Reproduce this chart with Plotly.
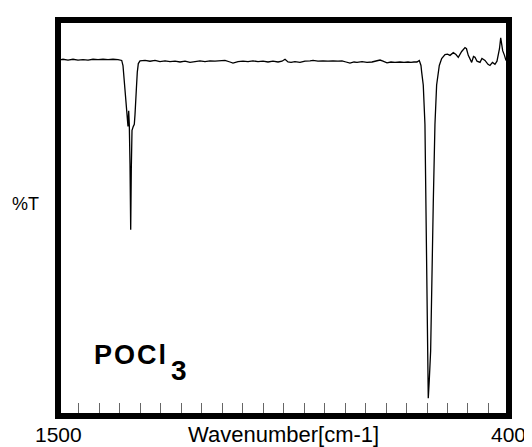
import plotly.graph_objects as go

# IR spectrum of POCl3
wavenumber = [
    1497.6, 1487.8, 1475.6, 1463.4, 1451.2, 1439.0, 1426.8, 1414.6, 1402.4, 1390.2,
    1378.0, 1365.9, 1353.7, 1344.6, 1341.5, 1339.0, 1336.6, 1333.4, 1331.0, 1329.3,
    1327.6, 1326.1, 1324.4, 1322.7, 1321.2, 1319.5, 1316.3, 1313.9, 1312.2, 1310.5,
    1309.0, 1306.6, 1304.1, 1300.0, 1287.8, 1275.6, 1263.4, 1251.2, 1239.0, 1226.8,
    1214.6, 1202.4, 1190.2, 1178.0, 1165.9, 1153.7, 1141.5, 1129.3, 1117.1, 1104.9,
    1092.7, 1080.5, 1073.2, 1061.0, 1048.8, 1036.6, 1024.4, 1012.2, 1000.0, 987.8,
    975.6, 963.4, 953.7, 946.3, 939.0, 931.7, 922.0, 909.8, 897.6, 885.4,
    878.0, 865.9, 853.7, 841.5, 829.3, 817.1, 807.3, 797.6, 787.8, 778.0,
    770.7, 758.5, 746.3, 734.2, 722.0, 714.6, 707.3, 697.6, 687.8, 678.1,
    665.9, 656.1, 646.4, 639.1, 631.8, 624.5, 618.8, 614.7, 613.0, 609.1,
    605.0, 602.5, 599.4, 596.9, 594.5, 591.1, 584.7, 580.6, 576.5, 570.0,
    564.2, 556.1, 550.0, 543.9, 535.9, 529.3, 523.7, 515.4, 507.3, 503.7,
    499.3, 495.1, 491.0, 486.6, 482.9, 478.0, 470.7, 465.9, 458.5, 451.2,
    446.4, 440.3, 434.2, 429.3, 426.1, 423.2, 420.2, 418.3, 415.4, 411.0,
    407.3,
]
transmittance = [
    90.5, 90.7, 90.5, 90.7, 90.5, 90.6, 90.5, 90.7, 90.6, 90.7,
    90.6, 90.7, 90.6, 90.4, 89.1, 86.1, 81.6, 77.5, 75.3, 73.5,
    77.5, 74.0, 63.9, 47.0, 62.6, 72.5, 73.5, 74.0, 76.5, 79.0,
    82.8, 87.4, 89.6, 90.3, 90.4, 90.2, 90.4, 90.1, 90.3, 90.1,
    90.2, 90.0, 90.2, 89.9, 90.1, 90.3, 90.1, 90.3, 90.2, 90.3,
    90.4, 90.0, 89.7, 90.1, 90.2, 90.1, 90.3, 90.1, 90.2, 90.0,
    90.2, 90.0, 90.2, 90.7, 90.0, 89.9, 90.1, 89.9, 90.2, 90.3,
    90.4, 90.2, 90.3, 90.2, 90.3, 90.2, 90.3, 90.0, 89.7, 90.0,
    89.9, 90.1, 89.9, 90.0, 90.2, 90.5, 90.2, 89.8, 90.0, 89.9,
    90.0, 89.9, 90.0, 89.9, 90.0, 90.0, 90.4, 89.1, 87.4, 84.1,
    74.0, 53.8, 15.9, 3.8, 8.3, 15.9, 53.8, 74.0, 84.1, 89.1,
    90.9, 91.9, 92.0, 91.7, 92.4, 91.9, 91.2, 92.7, 93.7, 93.4,
    91.7, 90.9, 89.9, 91.4, 91.2, 90.2, 89.9, 90.9, 90.4, 89.4,
    89.1, 89.9, 89.4, 90.2, 91.7, 93.4, 96.2, 94.2, 92.9, 91.7,
    90.4,
]
tick_values = [1450, 1400, 1350, 1300, 1250, 1200, 1150, 1100, 1050, 1000,
               950, 900, 850, 800, 750, 700, 650, 600, 550, 500, 450]
axis_ends = [1500, 400]
x_title = "Wavenumber[cm-1]"
y_title = "%T"
compound_main = "POCl"
compound_sub = "3"

FONT = "Arial, Liberation Sans, Helvetica, sans-serif"
X_RANGE = [1492.7, 407.3]

fig = go.Figure()
fig.add_trace(go.Scatter(
    x=wavenumber, y=transmittance, mode="lines",
    line=dict(color="black", width=1.3), hoverinfo="skip", showlegend=False,
))

# page body has an 8px default margin, so the figure is drawn 8px smaller
fig.update_layout(
    width=524, height=439,
    margin=dict(l=53, r=26, t=9, b=34, pad=0),
    paper_bgcolor="white", plot_bgcolor="white",
    xaxis=dict(
        range=X_RANGE, showgrid=False, zeroline=False,
        showline=True, mirror=True, linecolor="black", linewidth=5.5,
        ticks="inside", tickvals=tick_values, ticklen=10, tickwidth=1,
        tickcolor="#666666", showticklabels=False,
    ),
    yaxis=dict(
        range=[0, 100], showgrid=False, zeroline=False,
        showline=True, mirror=True, linecolor="black", linewidth=5.5,
        ticks="", showticklabels=False,
    ),
)

span = X_RANGE[0] - X_RANGE[1]
for v in axis_ends:
    fig.add_annotation(x=(X_RANGE[0] - v) / span, xref="paper", y=-0.054, yref="paper",
                       text=str(v), showarrow=False, xanchor="center", yanchor="middle",
                       font=dict(family=FONT, size=21, color="black"))
fig.add_annotation(x=0.5, xref="paper", y=-0.054, yref="paper", text=x_title,
                   showarrow=False, xanchor="center", yanchor="middle",
                   font=dict(family=FONT, size=22, color="black"))
fig.add_annotation(x=-0.079, xref="paper", y=0.535, yref="paper", text=y_title,
                   showarrow=False, xanchor="center", yanchor="middle",
                   font=dict(family=FONT, size=18, color="black"))
fig.add_annotation(x=0.0697, xref="paper", y=0.150, yref="paper",
                   text="<b><span style=\"letter-spacing:2px\">" + compound_main + "</span></b>",
                   showarrow=False, xanchor="left", yanchor="middle",
                   font=dict(family=FONT, size=27, color="black"))
fig.add_annotation(x=0.243, xref="paper", y=0.110, yref="paper",
                   text="<b>" + compound_sub + "</b>",
                   showarrow=False, xanchor="left", yanchor="middle",
                   font=dict(family=FONT, size=28, color="black"))

fig.write_html("out.html")
